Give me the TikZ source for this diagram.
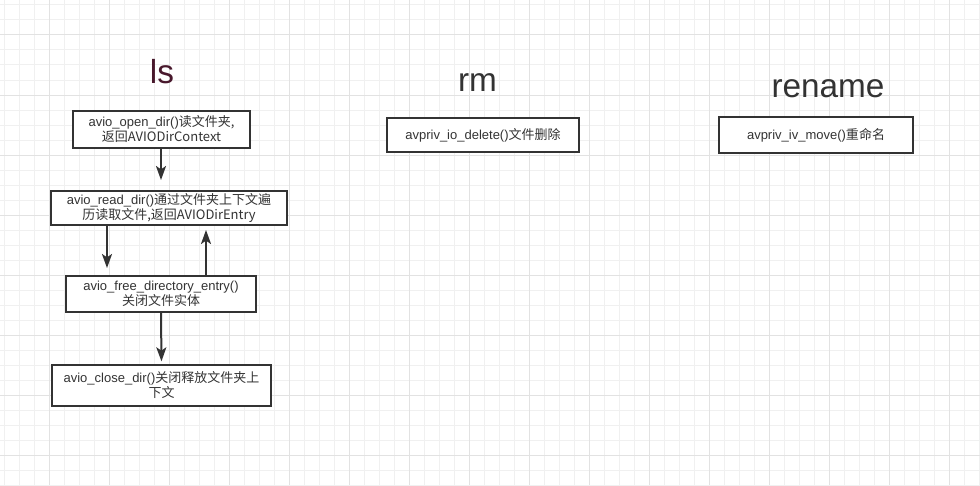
\documentclass[tikz,border=0pt]{standalone}
\usepackage{fontspec}
\setmainfont{Liberation Sans}
\newfontfamily\cjk{Noto Sans CJK SC}
\usetikzlibrary{arrows.meta}
\definecolor{inkgray}{RGB}{51,51,51}
\definecolor{minorgrid}{RGB}{240,240,240}
\definecolor{majorgrid}{RGB}{226,226,226}
\definecolor{lstitle}{RGB}{72,24,44}
\begin{document}
\begin{tikzpicture}[x=0.75pt,y=-0.75pt,
    fnbox/.style={draw=inkgray, line width=1.5pt, fill=white, inner sep=0pt,
        align=center, text=inkgray, font=\fontsize{9.75}{11.25}\selectfont},
    title/.style={anchor=base, text=inkgray, font=\fontsize{25}{30}\selectfont},
    flow/.style={draw=inkgray, line width=1.5pt,
        -{Stealth[length=10.5pt,width=7.5pt,inset=2.5pt]}}]
    \useasboundingbox[fill=white] (0,0) rectangle (980,485);
    \foreach \gx in {4,19,...,979} \draw[minorgrid, line width=0.75pt] (\gx,0) -- (\gx,485);
    \foreach \gy in {5,20,...,485} \draw[minorgrid, line width=0.75pt] (0,\gy) -- (980,\gy);
    \foreach \gx in {49,109,...,949} \draw[majorgrid, line width=0.75pt] (\gx,0) -- (\gx,485);
    \foreach \gy in {35,95,...,455} \draw[majorgrid, line width=0.75pt] (0,\gy) -- (980,\gy);

    \node[title, text=lstitle] (ls) at (162,83.3) {ls};
    \node[title] (rm) at (477.5,91.7) {rm};
    \node[title] (rename) at (828,97.7) {rename};

    \node[fnbox, minimum width=132.75pt, minimum height=27.75pt] (open) at (161.5,129.5)
        {avio\_open\_dir()\cjk{读文件夹},\\\cjk{返回}AVIODirContext};
    \node[fnbox, minimum width=177pt, minimum height=25.5pt] (read) at (169,208)
        {avio\_read\_dir()\cjk{通过文件夹上下文遍}\\\cjk{历读取文件},\cjk{返回}AVIODirEntry};
    \node[fnbox, minimum width=142.5pt, minimum height=27pt] (free) at (161,294)
        {avio\_free\_directory\_entry()\\\cjk{关闭文件实体}};
    \node[fnbox, minimum width=164.25pt, minimum height=30.75pt] (close) at (161.5,385.5)
        {avio\_close\_dir()\cjk{关闭释放文件夹上}\\\cjk{下文}};
    \node[fnbox, minimum width=144pt, minimum height=25.5pt] (delete) at (483,135)
        {avpriv\_io\_delete()\cjk{文件删除}};
    \node[fnbox, minimum width=145.5pt, minimum height=27pt] (move) at (816,135)
        {avpriv\_iv\_move()\cjk{重命名}};

    \draw[flow, shorten >=7.5pt] (open.south -| 161,0) -- (read.north -| 161,0);
    \draw[flow, shorten >=5.25pt] (read.south -| 107,0) -- (free.north -| 107,0);
    \draw[flow, shorten >=3pt] (free.north -| 206,0) -- (read.south -| 206,0);
    \draw[flow, shorten >=2pt] (free.south) -- (close.north);
\end{tikzpicture}
\end{document}
